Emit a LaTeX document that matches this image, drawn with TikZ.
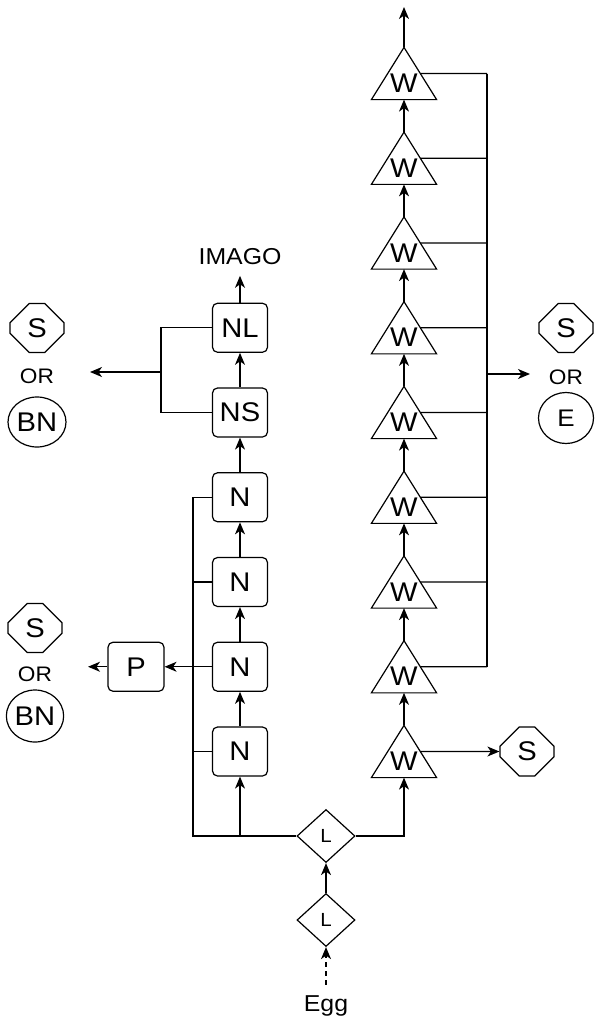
\documentclass[tikz,border=0pt]{standalone}
\usepackage{fontspec}
\setmainfont{Liberation Sans}[FakeStretch=1.08]
\usetikzlibrary{shapes.geometric,shapes.misc,arrows.meta,calc}
\begin{document}
\begin{tikzpicture}[x=1pt,y=-1pt,
  line width=1.2pt,
  >={Stealth[length=12pt,width=10pt,inset=3.5pt]},
  big/.style={font=\fontsize{27}{31}\selectfont},
  box/.style={draw, big, rounded corners=5pt, minimum width=55pt, minimum height=49pt, inner sep=0pt},
  tri/.style={big, minimum width=64pt, minimum height=51pt, inner sep=0pt, text height=38pt, text depth=0pt},
  dia/.style={draw, diamond, minimum width=58pt, minimum height=53pt, inner sep=0pt, font=\fontsize{19}{22}\selectfont},
  oct/.style={draw, big, chamfered rectangle, chamfered rectangle xsep=11pt, chamfered rectangle ysep=13pt, minimum width=54pt, minimum height=49pt, inner sep=0pt},
  ell/.style={draw, big, ellipse, minimum width=57pt, minimum height=51pt, inner sep=0pt},
  ortxt/.style={inner sep=0pt, font=\fontsize{21}{24}\selectfont},
  lbl/.style={inner sep=0pt, font=\fontsize{23}{26}\selectfont}
]
\useasboundingbox (0,0) rectangle (595,1017);

% ---- W column ----
\foreach \i/\y in {1/73.5,2/158.25,3/243,4/327.75,5/412.5,6/497.25,7/582,8/666.75,9/751.5}
  \node[tri] (W\i) at (404,\y) {W};
\foreach \i in {1,...,9}
  \draw[line join=miter] (W\i.south west) -- (W\i.south east) -- (W\i.north) -- cycle;
\foreach \a/\b in {9/8,8/7,7/6,6/5,5/4,4/3,3/2,2/1}
  \draw[->] (W\a.north) -- (W\b.south);
\coordinate (Wtop) at (404,7);
\draw[->] (W1.north) -- (Wtop);

\coordinate (RB) at (487,0);
\foreach \i in {1,...,8}
  \draw ($(W\i.south east)!0.5!(W\i.north)$) -- (W\i -| RB);
\draw (RB |- W1) -- (RB |- W8);
\coordinate (RO) at (530,374);
\draw[->] (RB |- RO) -- (RO);

\node[oct] (SR) at (566,328) {S};
\node[ortxt] (ORR) at (566,377) {OR};
\node[ell, minimum width=55pt, font=\fontsize{24}{28}\selectfont] (E) at (566,418) {E};

\node[oct] (SB) at (527,751.5) {S};
\draw[->] ($(W9.south east)!0.5!(W9.north)$) -- (SB.west);

% ---- left column ----
\node[box] (NL) at (240,327.75) {NL};
\node[box] (NS) at (240,412.5) {NS};
\node[box] (N1) at (240,497.25) {N};
\node[box] (N2) at (240,582) {N};
\node[box] (N3) at (240,666.75) {N};
\node[box] (N4) at (240,751.5) {N};
\draw[->] (NS.north) -- (NL.south);
\draw[->] (N1.north) -- (NS.south);
\draw[->] (N2.north) -- (N1.south);
\draw[->] (N3.north) -- (N2.south);
\draw[->] (N4.north) -- (N3.south);

\node[lbl, anchor=base] (IMAGO) at (240,264) {IMAGO};
\draw[->, shorten >=11pt] (NL.north) -- (IMAGO.south);

\coordinate (LB) at (161,0);
\draw (NL.west) -- (NL.west -| LB) -- (NS.west -| LB) -- (NS.west);
\coordinate (LA) at (90,372);
\draw[->] (LB |- LA) -- (LA);

\node[oct] (SL1) at (37,328) {S};
\node[ortxt] (ORL1) at (37,376) {OR};
\node[ell, minimum width=58pt, minimum height=50pt] (BN1) at (37,422) {BN};

\node[box, minimum width=56pt] (P) at (136,666.75) {P};
\draw[->] (N3.west) -- (P.east);
\coordinate (PA) at (88,666.75);
\draw[->] (P.west) -- (PA);

\node[oct] (SL2) at (35,628) {S};
\node[ortxt] (ORL2) at (35,674.5) {OR};
\node[ell, minimum width=57pt, minimum height=52pt] (BN2) at (35,716) {BN};

% ---- diamonds ----
\node[dia] (L1) at (326,836) {L};
\node[dia] (L2) at (326,920) {L};
\draw[->] (L2.north) -- (L1.south);
\node[lbl, anchor=base] (Egg) at (326,1011) {Egg};
\draw[->, dash pattern=on 5pt off 4pt, shorten <=10pt] (Egg.north) -- (L2.south);

\coordinate (LB2) at (193,0);
\draw (N1.west) -- (N1.west -| LB2) -- (LB2 |- L1) -- (L1.west);
\draw (N2.west -| LB2) -- (N2.west);
\draw (N4.west -| LB2) -- (N4.west);
\draw[->] (N4.south |- L1.west) -- (N4.south);
\draw[->] (L1.east) -| (W9.south);
\end{tikzpicture}
\end{document}
